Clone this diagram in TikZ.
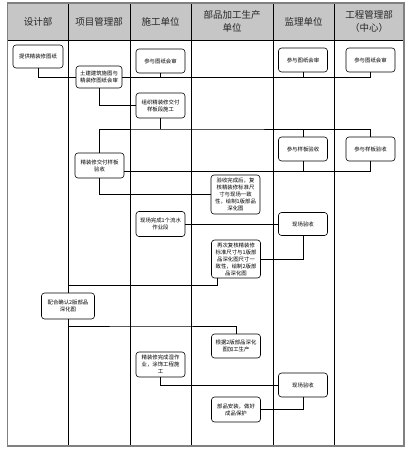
\documentclass[tikz,border=0pt]{standalone}
\usepackage{fontspec}
\newfontfamily\cjk{Noto Sans CJK SC}
\usetikzlibrary{positioning}
\definecolor{lanegray}{HTML}{C6C6C6}
\definecolor{framegray}{HTML}{808080}

\tikzset{
  stepbox/.style={draw=black, fill=white, line width=0.6pt, rounded corners=3pt,
    align=center, inner sep=1pt, minimum width=49pt, minimum height=24pt,
    font=\cjk\fontsize{5.4pt}{7pt}\selectfont},
  lanehead/.style={align=center, text=black!85, font=\cjk\fontsize{9.5pt}{13pt}\selectfont},
  link/.style={draw=black, line width=0.6pt},
}

\begin{document}
\begin{tikzpicture}[x=1pt, y=-1pt]
        \useasboundingbox (0,0) rectangle (407,452);

        % ----------------------------------------------------
        % LANES AND HEADER
        % ----------------------------------------------------
        \fill[lanegray] (7.5,3) rectangle (404,40);
        \draw[line width=0.6pt] (7.5,40) -- (404,40);
        \foreach \lx in {68,130,191,273,334}
            \draw[line width=0.6pt] (\lx,3) -- (\lx,446);
        \draw[framegray, line width=1.6pt] (7.5,3) rectangle (404,446);

        \node[lanehead] (hdesign) at (38,22) {设计部};
        \node[lanehead] (hproject) at (99,22) {项目管理部};
        \node[lanehead] (hbuild) at (160.5,22) {施工单位};
        \node[lanehead] (hfactory) at (232,21.5) {部品加工生产\\单位};
        \node[lanehead] (hsuper) at (303.5,22) {监理单位};
        \node[lanehead] (hcentre) at (369,21.5) {工程管理部\\（中心）};

        % ----------------------------------------------------
        % DRAWING REVIEW
        % ----------------------------------------------------
        \node[stepbox, minimum width=50pt, minimum height=23pt] (drawings) at (38,56.5) {提供精装修图纸};
        \node[stepbox, minimum width=46pt, minimum height=22pt] (review) at (99,77) {土建建筑施图与\\精装修图纸会审};
        \node[stepbox] (reviewbuild) at (160.5,61) {参与图纸会审};
        \node[stepbox] (reviewsuper) at (303,60) {参与图纸会审};
        \node[stepbox] (reviewcentre) at (370.5,60) {参与图纸会审};

        % ----------------------------------------------------
        % SAMPLE UNIT
        % ----------------------------------------------------
        \node[stepbox, minimum height=25pt] (sample) at (160.5,105.5) {组织精装修交付\\样板段施工};
        \node[stepbox, minimum height=25pt] (accept) at (99.5,165.5) {精装修交付样板\\验收};
        \node[stepbox] (acceptsuper) at (303,149) {参与样板验收};
        \node[stepbox] (acceptcentre) at (370.5,149) {参与样板验收};

        % ----------------------------------------------------
        % DETAIL DRAWINGS
        % ----------------------------------------------------
        \node[stepbox, minimum height=39pt] (firstdraft) at (235.5,194.5) {验收完成后，复\\核精装修标准尺\\寸与现场一致\\性，绘制1版部品\\深化图};
        \node[stepbox, minimum height=25pt] (firstlot) at (160.5,224) {现场完成1个流水\\作业段};
        \node[stepbox, minimum height=23pt] (sitecheck) at (303,224) {现场验收};
        \node[stepbox, minimum height=38pt] (seconddraft) at (236,259) {再次复核精装修\\标准尺寸与1版部\\品深化图尺寸一\\致性，绘制2版部\\品深化图};
        \node[stepbox, minimum width=53pt, minimum height=26pt] (confirm) at (68,306) {配合确认2版部品\\深化图};

        % ----------------------------------------------------
        % PRODUCTION AND INSTALLATION
        % ----------------------------------------------------
        \node[stepbox] (produce) at (236,346) {根据2版部品深化\\图加工生产};
        \node[stepbox, minimum height=25pt] (wetwork) at (160.5,364.5) {精装修完成湿作\\业，涂饰工程施\\工};
        \node[stepbox] (finalcheck) at (303,385) {现场验收};
        \node[stepbox, minimum height=25pt] (install) at (236,409.5) {部品安装，做好\\成品保护};

        % ----------------------------------------------------
        % CONNECTORS
        % ----------------------------------------------------
        \coordinate (sampledrop) at (160.5,129);
        \coordinate (acceptjoin) at (303,171);
        \coordinate (draftjoin) at (68,285);
        \coordinate (confirmjoin) at (150,326);

        \draw[link] (drawings.south) |- (review.west);
        \draw[link] (review.east) -| (reviewcentre.south);
        \draw[link] (reviewbuild.south) -- (reviewbuild.south |- review.east);
        \draw[link] (reviewsuper.south) -- (reviewsuper.south |- review.east);
        \draw[link] (review.south) |- (sample.west);
        \draw[link] (sample.south) -- (sampledrop);
        \draw[link] (accept.north) |- (sampledrop) -| (acceptcentre.north);
        \draw[link] (acceptsuper.north) -- (acceptsuper.north |- sampledrop);
        \draw[link] (accept.east |- acceptjoin) -| (acceptcentre.south);
        \draw[link] (acceptsuper.south) -- (acceptjoin);
        \draw[link] (accept.south) |- (firstdraft.west);
        \draw[link] (firstlot) -- (sitecheck);
        \draw[link] (sitecheck.south) |- (seconddraft.east);
        \draw[link] ([xshift=6pt]seconddraft.south west) |- (draftjoin) -- (confirm.north);
        \draw[link] (confirm.south) |- (confirmjoin) -| (produce.north);
        \draw[link] (wetwork.south) |- (finalcheck.west);
        \draw[link] (finalcheck.south) |- (install.east);
    \end{tikzpicture}
\end{document}
